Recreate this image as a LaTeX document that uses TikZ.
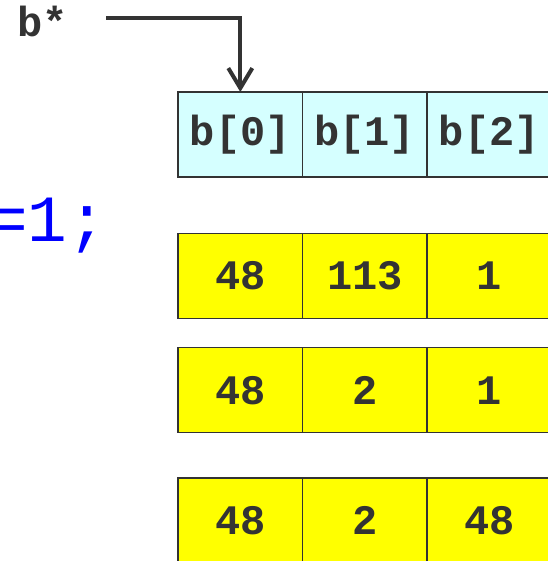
\documentclass[tikz,border=0pt]{standalone}
\usepackage{fontspec}
\setmonofont{Liberation Mono}
\usetikzlibrary{arrows.meta, positioning}
\definecolor{cellcyan}{RGB}{213,255,255}
\definecolor{cellyellow}{RGB}{255,255,0}
\definecolor{linegray}{RGB}{51,51,51}
\definecolor{codeblue}{RGB}{0,0,255}
\tikzset{
  cell/.style={draw=linegray, line width=1.5pt, minimum width=124.5pt, minimum height=85pt,
    inner sep=0pt, outer sep=0pt, text=linegray,
    font=\ttfamily\bfseries\fontsize{42}{50}\selectfont},
  idxcell/.style={cell, fill=cellcyan},
  valcell/.style={cell, fill=cellyellow},
  ptr/.style={draw=linegray, line width=4pt, -{Straight Barb[length=20pt, width=24pt]}}
}

\begin{document}
\begin{tikzpicture}[x=1pt, y=-1pt]
    \useasboundingbox (0,0) rectangle (547,561);

    % pointer label
    \node[anchor=base west, inner sep=0pt, text=linegray,
      font=\ttfamily\bfseries\fontsize{42}{50}\selectfont] (bptr) at (17,37) {b*};
    \coordinate (ptrstart) at (106,18.5);

    % index row
    \node[idxcell] (b0) at (240.3,134.5) {b[0]};
    \node[idxcell, right=0pt of b0] (b1) {b[1]};
    \node[idxcell, right=0pt of b1] (b2) {b[2]};

    \draw[ptr] (ptrstart) -| (b0.north);

    % code fragment
    \node[anchor=base west, inner sep=0pt, text=codeblue,
      font=\ttfamily\fontsize{66}{70}\selectfont] (assign) at (-12,241) {=1;};

    % value rows
    \node[valcell] (ra0) at (240.3,275.8) {48};
    \node[valcell, right=0pt of ra0] (ra1) {113};
    \node[valcell, right=0pt of ra1] (ra2) {1};

    \node[valcell] (rb0) at (240.3,390.2) {48};
    \node[valcell, right=0pt of rb0] (rb1) {2};
    \node[valcell, right=0pt of rb1] (rb2) {1};

    \node[valcell] (rc0) at (240.3,520.3) {48};
    \node[valcell, right=0pt of rc0] (rc1) {2};
    \node[valcell, right=0pt of rc1] (rc2) {48};
\end{tikzpicture}
\end{document}
